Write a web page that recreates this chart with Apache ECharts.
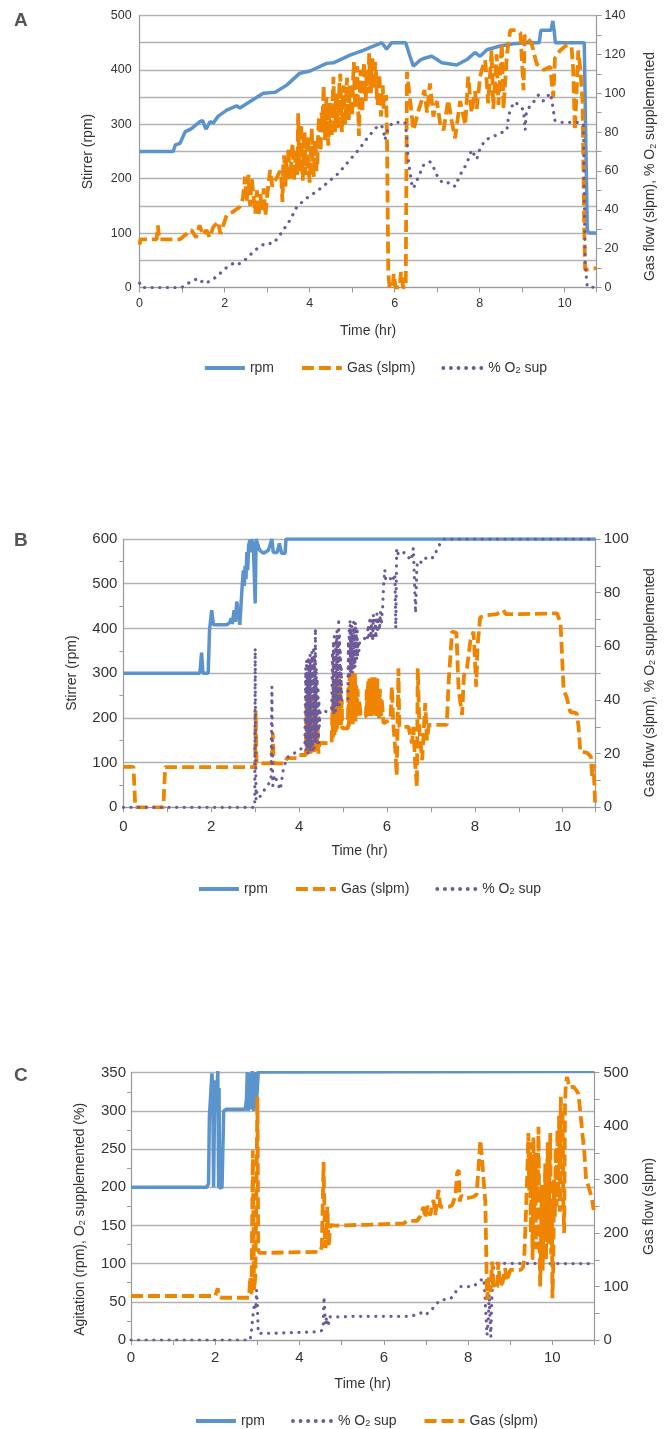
<!DOCTYPE html>
<html>
<head>
<meta charset="utf-8">
<title>Stirrer, gas flow and O2 supplementation</title>
<script src="https://cdn.jsdelivr.net/npm/echarts@6/dist/echarts.min.js"></script>
<style>
  html, body { margin: 0; padding: 0; background: #fff; }
  #chart { width: 667px; height: 1429px; }
</style>
</head>
<body>
<div id="chart"></div>
<script>
// ---- panel A : [time (hr), value] ----
const aRpm = [[0,250],[0.79,250],[0.84,262],[0.95,265],[1.07,286],[1.22,292],[1.42,305],[1.48,307],[1.56,291],[1.66,305],[1.73,302],[1.85,315],[2.05,326],[2.28,334],[2.36,330],[2.6,342],[2.91,357],[3.19,359],[3.46,372],[3.77,394],[4.01,398],[4.4,412],[4.56,413],[4.95,427],[5.26,436],[5.7,450],[5.81,438],[5.93,450],[6.26,450],[6.36,425],[6.44,407],[6.6,418],[6.68,421],[6.87,425],[6.98,420],[7.11,413],[7.46,409],[7.7,419],[7.89,432],[8.01,425],[8.17,437],[8.48,444],[8.79,448],[9.1,450],[9.4,450],[9.44,473],[9.68,473],[9.72,490],[9.75,473],[9.78,450],[10.46,450],[10.5,250],[10.53,106],[10.56,100],[10.75,100]];
const aGas = [[0,22],[0.02,24.8],[0.4,24.8],[0.43,32],[0.46,24.8],[0.95,24.8],[1.07,27],[1.22,29.6],[1.33,25.7],[1.41,32],[1.49,27],[1.57,29.6],[1.65,25.7],[1.73,31],[1.85,33.9],[1.9,27.6],[2.05,37.3],[2.2,39],[2.36,41.6],[2.43,46],[2.48,57],[2.52,44],[2.56,58],[2.6,42],[2.64,56],[2.68,47],[2.72,38],[2.76,50],[2.8,37],[2.84,48],[2.88,40],[2.92,51],[2.96,37],[3.0,47],[3.04,55],[3.07,60.5],[3.12,52],[3.18,55],[3.24,57],[3.3,60],[3.33,58],[3.36,44],[3.38,62],[3.4,68],[3.43,52],[3.45,66],[3.48,55],[3.5,72],[3.53,58],[3.55,56],[3.58,70],[3.6,74],[3.63,55],[3.65,54],[3.67,68],[3.69,70],[3.71,58],[3.73,89.7],[3.75,66],[3.76,60],[3.78,80],[3.8,84],[3.82,62],[3.84,55],[3.86,76],[3.88,80],[3.9,60],[3.92,58],[3.94,75],[3.96,78],[3.98,60],[4.0,54],[4.03,70],[4.05,82],[4.07,64],[4.1,57],[4.12,72],[4.14,76],[4.16,60],[4.18,62],[4.2,80],[4.22,88],[4.24,70],[4.26,72],[4.28,90],[4.3,85],[4.33,104],[4.35,82],[4.36,76],[4.38,92],[4.4,98],[4.42,80],[4.44,73],[4.46,90],[4.48,95],[4.5,82],[4.52,78],[4.54,96],[4.56,108.5],[4.58,90],[4.6,80],[4.62,96],[4.64,100],[4.66,82],[4.68,88],[4.7,104],[4.72,110],[4.74,92],[4.76,80],[4.78,98],[4.8,104],[4.82,88],[4.84,84],[4.86,100],[4.88,108],[4.9,90],[4.92,86],[4.94,104],[4.96,100],[4.98,92],[5.0,88],[5.02,106],[5.04,116],[5.06,98],[5.08,92],[5.1,104],[5.12,114],[5.14,92],[5.16,78],[5.18,100],[5.2,112],[5.22,96],[5.24,90],[5.26,108],[5.28,116],[5.3,100],[5.32,96],[5.34,112],[5.36,108],[5.38,100],[5.4,120.5],[5.42,106],[5.44,100],[5.46,114],[5.48,118],[5.5,104],[5.52,102],[5.54,116],[5.56,112],[5.58,98],[5.6,94],[5.62,108],[5.64,110],[5.66,96],[5.68,88],[5.7,100],[5.72,104],[5.74,92],[5.76,96],[5.8,99],[5.82,76],[5.85,7.3],[5.88,0],[5.95,0],[5.98,7],[6.02,0],[6.12,0],[6.15,8],[6.2,0],[6.26,0],[6.29,111],[6.44,81],[6.56,91],[6.64,96.5],[6.7,101.7],[6.76,90],[6.83,105],[6.91,88],[6.99,96],[7.07,84.5],[7.15,81],[7.26,96.5],[7.34,86],[7.42,76.8],[7.54,96],[7.66,83.6],[7.73,108.5],[7.81,90],[7.89,101],[7.93,92],[8.01,108.5],[8.05,112],[8.13,117],[8.2,94.8],[8.28,122],[8.32,92],[8.4,120],[8.44,94],[8.52,125.7],[8.56,92],[8.64,120],[8.72,132.5],[8.88,132.5],[8.96,131],[9.03,101.6],[9.06,130],[9.14,128],[9.22,125.7],[9.34,115],[9.5,112],[9.66,113.6],[9.73,98],[9.77,118],[9.89,122],[10.05,124.8],[10.16,124],[10.2,112],[10.24,81],[10.32,122],[10.37,112],[10.42,95],[10.46,29.6],[10.48,9],[10.5,10],[10.75,10]];
const aO2 = [[0,2.2],[0.05,0],[0.99,0],[1.1,1.7],[1.25,3.5],[1.38,4.7],[1.52,2],[1.67,3.4],[1.81,5.6],[2.05,10.4],[2.2,12.4],[2.3,11.6],[2.48,14.2],[2.72,19.3],[2.95,22.7],[3.15,22.7],[3.3,27],[3.54,34.7],[3.7,41.6],[3.93,46],[4.2,50],[4.4,53.6],[4.68,58.8],[4.91,64.8],[5.15,70.8],[5.38,77.6],[5.62,83.6],[5.7,83],[5.74,80],[5.77,76],[5.82,80],[5.87,83],[5.98,85],[6.24,85],[6.28,79],[6.32,65.6],[6.4,53.6],[6.44,51],[6.56,57],[6.68,63],[6.83,64.7],[6.91,62],[7.03,56],[7.15,53.6],[7.3,54],[7.42,52],[7.54,58],[7.7,64],[7.81,70.8],[7.93,66],[8.0,71],[8.13,76],[8.25,77],[8.4,78.5],[8.64,81],[8.68,88.5],[8.75,93],[8.83,95.6],[9.03,91.4],[9.07,81],[9.1,91],[9.27,95.6],[9.38,99],[9.5,96],[9.66,100],[9.7,96],[9.73,91.4],[9.77,86],[9.93,85],[10.36,85],[10.44,84],[10.48,12.5],[10.53,0.4],[10.72,0]];

// ---- panel B ----
const bRpm = [[0,300],[1.74,300],[1.78,346],[1.81,300],[1.93,300],[1.96,396],[2.01,441],[2.05,408],[2.35,408],[2.43,414],[2.45,423],[2.48,410],[2.52,441],[2.55,415],[2.58,460],[2.65,408],[2.7,490],[2.73,530],[2.75,495],[2.77,540],[2.79,510],[2.81,571],[2.83,530],[2.85,585],[2.88,598],[2.9,570],[2.92,600],[2.96,580],[3.0,456],[3.02,600],[3.1,575],[3.19,568],[3.3,575],[3.38,600],[3.41,570],[3.5,570],[3.55,590],[3.6,568],[3.68,568],[3.7,600],[10.75,600]];
const bGas = [[0,15.1],[0.23,15.1],[0.27,0],[0.91,0],[0.95,15],[3.0,15],[3.01,36],[3.03,16.4],[3.38,16.4],[3.4,27.6],[3.42,16.4],[3.68,16.4],[3.72,18.3],[3.95,18.3],[3.98,19.5],[4.15,19.5],[4.16,20],[4.17,38],[4.18,20],[4.19,40],[4.2,21],[4.21,36],[4.22,20],[4.23,41],[4.24,21],[4.25,38],[4.26,20],[4.27,39],[4.28,22],[4.29,40],[4.3,20],[4.31,37],[4.32,21],[4.33,39],[4.34,20],[4.35,36],[4.36,22],[4.38,34],[4.4,21],[4.42,30],[4.44,20],[4.46,24],[4.48,23.9],[4.74,23.9],[4.76,38],[4.77,26],[4.79,44],[4.8,27],[4.82,46],[4.83,28],[4.85,44],[4.86,29],[4.88,50],[4.89,30],[4.91,48],[4.92,31],[4.94,45],[4.95,30],[4.97,40],[4.98,29.4],[5.11,29.4],[5.12,45],[5.13,30],[5.15,50],[5.16,31],[5.18,48],[5.19,32],[5.21,50.5],[5.22,31],[5.24,49],[5.25,33],[5.27,50],[5.28,32],[5.3,46],[5.31,34],[5.33,44],[5.35,34],[5.37,40],[5.4,33.8],[5.52,33.8],[5.54,44],[5.55,35],[5.57,47],[5.58,34],[5.6,48],[5.61,35],[5.63,47],[5.64,34],[5.66,48.5],[5.67,35],[5.69,48],[5.7,34],[5.72,48.5],[5.73,36],[5.75,47],[5.76,34],[5.78,48],[5.79,35],[5.81,45],[5.82,33],[5.84,44],[5.86,34],[5.88,40],[5.9,36],[5.92,31.3],[6.0,32],[6.08,33],[6.11,45],[6.14,32],[6.19,21],[6.22,12],[6.24,30],[6.26,51.8],[6.28,30],[6.49,30],[6.57,23.8],[6.6,30],[6.64,16.4],[6.68,7.7],[6.7,51.8],[6.74,28],[6.8,17.6],[6.87,38.8],[6.91,25],[6.95,30.7],[7.36,30.7],[7.4,46],[7.48,65.5],[7.58,65],[7.63,43.7],[7.71,34.4],[7.75,49],[7.82,52],[7.9,62.4],[7.97,65.5],[8.03,45],[8.06,60],[8.12,70.8],[8.27,71.6],[8.5,72],[8.65,73.5],[8.7,72],[9.04,72],[9.87,72.3],[9.95,68.6],[10.02,43.7],[10.09,41],[10.17,35.6],[10.32,35],[10.36,30],[10.4,20.7],[10.55,20.4],[10.64,18.9],[10.67,11.5],[10.7,16],[10.74,0.2]];
const bO2 = [[0,0],[2.99,0],[3.0,59.3],[3.01,20],[3.02,3],[3.04,6],[3.11,4],[3.23,7],[3.36,10],[3.38,45],[3.4,8],[3.44,12],[3.57,6.5],[3.64,14],[3.72,18.5],[3.87,20],[4.02,21.3],[4.13,23.8],[4.14,24],[4.15,52],[4.16,21],[4.17,55],[4.18,22],[4.19,50],[4.2,20],[4.21,56],[4.22,23],[4.23,53],[4.24,21],[4.25,57],[4.26,22],[4.27,54],[4.28,24],[4.29,58],[4.3,21],[4.31,55],[4.32,23],[4.33,60],[4.34,22],[4.35,57],[4.36,25],[4.37,66.7],[4.38,24],[4.39,52],[4.4,23],[4.41,48],[4.42,25],[4.43,45],[4.44,24],[4.45,40],[4.46,30],[4.48,36],[4.55,36],[4.65,35.5],[4.74,37],[4.75,37],[4.76,58],[4.77,36],[4.78,62],[4.79,35],[4.8,65],[4.81,37],[4.82,60],[4.83,36],[4.84,63],[4.85,38],[4.86,66],[4.87,37],[4.88,62],[4.89,39],[4.9,70.4],[4.91,38],[4.92,64],[4.93,40],[4.94,58],[4.95,41],[4.96,52],[4.97,40],[5.11,40],[5.12,62],[5.13,48],[5.14,66],[5.15,49],[5.16,69.8],[5.17,50],[5.18,64],[5.19,51],[5.2,68],[5.21,50],[5.22,65],[5.23,52],[5.24,69],[5.25,53],[5.26,66],[5.27,52],[5.28,69],[5.29,54],[5.3,64],[5.31,55],[5.32,67],[5.33,56],[5.34,62],[5.36,58],[5.38,62],[5.5,63],[5.55,62],[5.57,68],[5.59,64],[5.61,71],[5.63,63],[5.65,70],[5.67,62],[5.69,72],[5.71,64],[5.73,70],[5.75,63],[5.77,72.3],[5.79,65],[5.81,71],[5.83,66],[5.85,73],[5.87,68],[5.89,73],[5.9,74],[5.92,82],[5.95,88.5],[5.97,85],[6.05,86],[6.12,84],[6.18,87],[6.2,66.7],[6.22,96.5],[6.26,94],[6.4,95],[6.55,92],[6.6,96.6],[6.65,72.4],[6.68,90],[6.72,92],[6.8,91],[6.91,93.4],[7.05,93],[7.14,96],[7.21,98.4],[7.29,100],[10.75,100]];

// ---- panel C ----
const cRpm = [[0,200],[1.8,200],[1.84,205],[1.86,292],[1.88,290],[1.92,349],[1.94,330],[1.96,200],[1.99,340],[2.03,300],[2.06,353],[2.08,200],[2.09,330],[2.1,199],[2.16,200],[2.2,300],[2.22,301],[2.26,302],[2.71,302],[2.74,315],[2.76,351],[2.78,300],[2.82,350],[2.85,302],[2.88,352],[2.91,300],[2.94,351],[2.97,303],[3.02,351],[11,352]];
const cO2 = [[0,0],[2.83,0],[2.87,17],[2.9,35],[2.93,48],[2.96,40],[2.98,65.5],[3.0,45],[3.02,8.7],[3.05,8],[3.5,9],[4.0,10],[4.49,11],[4.56,14],[4.58,56.7],[4.6,35],[4.62,20],[4.64,30],[4.68,17.4],[4.71,30.5],[4.77,30],[5.25,31],[6.55,31],[6.79,32.7],[6.9,36],[6.98,33],[7.1,37],[7.22,45.8],[7.34,52.4],[7.5,53],[7.6,55],[7.74,65.5],[7.81,70],[8.13,70],[8.25,76.3],[8.37,80.8],[8.4,60],[8.43,26],[8.45,6.5],[8.48,26],[8.5,60],[8.52,30],[8.54,4],[8.56,50],[8.59,83],[8.61,100.4],[11,100]];
const cGas = [[0,82.3],[2.0,82.3],[2.04,82],[2.06,96.7],[2.08,82],[2.15,79],[2.8,79],[2.83,118],[2.86,85],[2.89,355],[2.92,93],[2.95,118],[2.98,300],[3.0,455],[3.02,168],[3.05,163],[3.22,163],[4.49,165],[4.53,175],[4.57,333],[4.6,200],[4.62,172],[4.66,249],[4.69,176],[4.73,215],[4.88,214],[5.7,216],[6.47,218],[6.55,223],[6.79,223],[6.86,230.7],[6.94,249],[6.98,228],[7.04,251],[7.1,233],[7.18,262],[7.22,234],[7.3,280.6],[7.34,249],[7.54,249],[7.62,252],[7.7,270],[7.74,312],[7.78,318],[7.8,259],[7.84,270],[7.94,264.5],[8.13,268],[8.2,272],[8.25,324],[8.29,374],[8.32,372],[8.34,330],[8.41,256],[8.45,75],[8.49,117],[8.53,90],[8.57,146.5],[8.61,96],[8.69,100],[8.72,146],[8.76,100],[8.82,108],[8.88,134],[8.92,110],[9.0,131],[9.24,131],[9.3,135],[9.33,150],[9.37,230],[9.4,300],[9.43,387],[9.45,280],[9.47,370],[9.49,200],[9.51,330],[9.53,150],[9.55,380],[9.57,240],[9.59,350],[9.61,170],[9.63,320],[9.65,260],[9.67,399],[9.69,220],[9.71,100],[9.73,180],[9.75,290],[9.77,130],[9.79,250],[9.81,200],[9.83,330],[9.85,150],[9.87,280],[9.89,370],[9.91,180],[9.93,300],[9.95,387],[9.97,160],[9.99,250],[10.0,78],[10.02,130],[10.04,300],[10.06,230],[10.08,360],[10.1,250],[10.12,393],[10.14,280],[10.16,420],[10.18,240],[10.2,455],[10.22,320],[10.24,430],[10.26,260],[10.28,200],[10.3,440],[10.32,480],[10.35,492],[10.4,472],[10.5,474],[10.58,466],[10.62,460],[10.67,421],[10.72,380],[10.76,350],[10.8,300],[10.86,287],[10.94,264],[10.98,243]];

const BLUE = '#5b93cd', ORANGE = '#ef8400', PURPLE = '#6d5b99';
const TXT = '#333', AXIS = '#9a9a9a', GRID = '#b2b2b2';
const FONT = 'Liberation Sans';
const O2 = '% O2 sup';

const chart = echarts.init(document.getElementById('chart'));

// x axis per panel
function xAx(grid, max, size, margin) {
  return {
    type: 'value', gridIndex: grid, min: 0, max: max, interval: 1,
    name: 'Time (hr)', nameLocation: 'middle', nameGap: 37,
    nameTextStyle: { fontSize: 14, color: TXT, fontFamily: FONT },
    axisLine: { show: true, lineStyle: { color: AXIS, width: 1.2 } },
    axisTick: { show: true, length: 5, lineStyle: { color: AXIS } },
    axisLabel: { fontSize: size, color: TXT, fontFamily: FONT, margin: margin,
      formatter: v => (v % 2 === 0 ? v : '') },
    splitLine: { show: false }
  };
}

function yAx(grid, o) {
  const ax = {
    type: 'value', gridIndex: grid, min: 0, max: o.max, interval: o.step,
    position: o.right ? 'right' : 'left',
    name: o.name, nameLocation: 'middle', nameRotate: 90, nameGap: o.gap,
    nameTextStyle: { fontSize: 14, color: TXT, fontFamily: FONT, padding: o.pad || 0,
      rich: { t: { fontSize: 14, color: TXT, fontFamily: FONT, verticalAlign: 'bottom' },
              s: { fontSize: 9, color: TXT, fontFamily: FONT, verticalAlign: 'bottom' } } },
    axisLine: { show: true, lineStyle: { color: AXIS, width: 1.2 } },
    axisTick: { show: !!o.tick, length: 5, lineStyle: { color: AXIS } },
    axisLabel: { fontSize: o.size, color: TXT, fontFamily: FONT, margin: o.margin,
      formatter: v => (v % o.label === 0 ? v : '') },
    splitLine: { show: !o.right, lineStyle: { color: GRID, width: 1.3 } }
  };
  if (o.minor) {
    ax.minorTick = { show: true, splitNumber: 2, length: 4, lineStyle: { color: AXIS } };
  }
  return ax;
}

const styles = {
  rpm: { color: BLUE, width: 3.5 },
  gas: { color: ORANGE, width: 3.8, type: [12, 5] },
  o2: { color: PURPLE, width: 3.2, type: [0.1, 7.5], cap: 'round' }
};

function line(name, data, idx, style) {
  return {
    name: name, type: 'line', data: data, xAxisIndex: idx[0], yAxisIndex: idx[1],
    symbol: 'none', showSymbol: false, smooth: false, sampling: null,
    color: style.color, lineStyle: style
  };
}

function legend(order, left, top) {
  return {
    data: order, left: left, top: top, orient: 'horizontal', padding: 0,
    itemWidth: 40, itemHeight: 14, itemGap: 26, selectedMode: false,
    itemStyle: { opacity: 0, color: 'rgba(0,0,0,0)', borderWidth: 0 },
    lineStyle: { width: 3.8 },
    textStyle: { fontSize: 14, color: TXT, fontFamily: FONT,
      rich: { t: { fontSize: 14, color: TXT, fontFamily: FONT, verticalAlign: 'bottom' },
              s: { fontSize: 9, color: TXT, fontFamily: FONT, verticalAlign: 'bottom' } } },
    formatter: n => (n === O2 ? '{t|% O}{s|2}{t| sup}' : n)
  };
}

function letter(t, top) {
  return { text: t, left: 14, top: top, padding: 0,
    textStyle: { fontSize: 19, fontWeight: 'bold', color: '#555', fontFamily: FONT } };
}

chart.setOption({
  animation: false,
  backgroundColor: '#fff',
  textStyle: { fontFamily: FONT, color: TXT },
  title: [letter('A', 11), letter('B', 531), letter('C', 1066)],
  grid: [
    { left: 139.6, top: 15.5, width: 457, height: 272, outerBoundsMode: 'none' },
    { left: 123.4, top: 539, width: 472.3, height: 268.3, outerBoundsMode: 'none' },
    { left: 131, top: 1072.7, width: 463.5, height: 267.3, outerBoundsMode: 'none' }
  ],
  xAxis: [xAx(0, 10.75, 12.5, 10), xAx(1, 10.75, 15, 12), xAx(2, 11, 15, 10)],
  yAxis: [
    yAx(0, { max: 500, step: 50, label: 100, size: 12.5, margin: 8, gap: 44,
      name: 'Stirrer (rpm)' }),
    yAx(0, { right: true, max: 140, step: 10, label: 20, size: 12.5, margin: 8, gap: 47, tick: true,
      pad: [0, 30, 0, 0], name: '{t|Gas flow (slpm), % O}{s|2}{t| supplemented}' }),
    yAx(1, { max: 600, step: 100, label: 100, size: 15, margin: 6, gap: 44, minor: true,
      name: 'Stirrer (rpm)' }),
    yAx(1, { right: true, max: 100, step: 10, label: 20, size: 15, margin: 8, gap: 47, tick: true,
      pad: [0, 19, 0, 0], name: '{t|Gas flow (slpm), % O}{s|2}{t| supplemented}' }),
    yAx(2, { max: 350, step: 50, label: 50, size: 15, margin: 5, gap: 44, minor: true,
      pad: [0, 26, 0, 0], name: '{t|Agitation (rpm), O}{s|2}{t| supplemented (%)}' }),
    yAx(2, { right: true, max: 500, step: 50, label: 100, size: 15, margin: 9, gap: 48, tick: true,
      name: 'Gas flow (slpm)' })
  ],
  legend: [
    legend(['rpm', 'Gas (slpm)', O2], 203, 361),
    legend(['rpm', 'Gas (slpm)', O2], 197, 882),
    legend(['rpm', O2, 'Gas (slpm)'], 194, 1414)
  ],
  series: [
    line('rpm', aRpm, [0, 0], styles.rpm),
    line('Gas (slpm)', aGas, [0, 1], styles.gas),
    line(O2, aO2, [0, 1], styles.o2),
    line('rpm', bRpm, [1, 2], styles.rpm),
    line('Gas (slpm)', bGas, [1, 3], styles.gas),
    line(O2, bO2, [1, 3], styles.o2),
    line('rpm', cRpm, [2, 4], styles.rpm),
    line(O2, cO2, [2, 4], styles.o2),
    line('Gas (slpm)', cGas, [2, 5], styles.gas)
  ]
});
</script>
</body>
</html>
